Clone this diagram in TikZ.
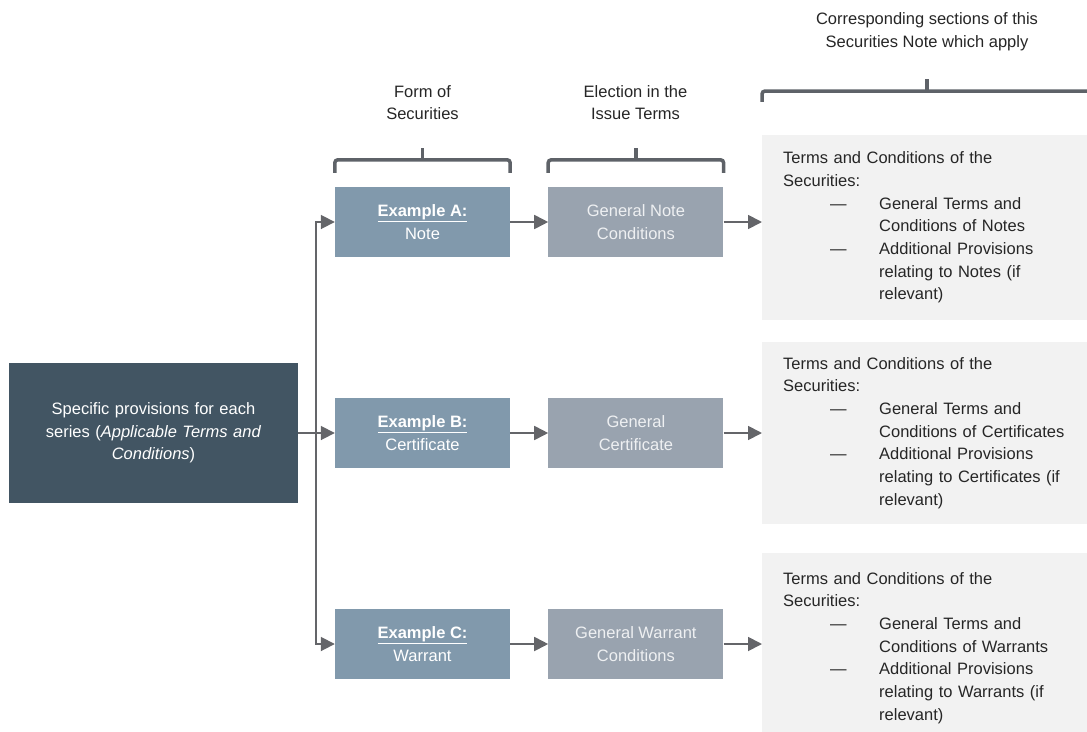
\documentclass[tikz,border=0pt]{standalone}
\usepackage{fontspec}
\setmainfont{Liberation Sans}
\usetikzlibrary{arrows.meta,positioning}

\definecolor{mainblue}{HTML}{425563}
\definecolor{formblue}{HTML}{8199AC}
\definecolor{electgrey}{HTML}{99A3AF}
\definecolor{electtext}{HTML}{EEF0F2}
\definecolor{panelgrey}{HTML}{F2F2F2}
\definecolor{linegrey}{HTML}{646569}
\definecolor{bracegrey}{HTML}{5E6268}
\definecolor{textgrey}{HTML}{262626}

\newcommand{\itemdash}{\hspace*{47pt}\makebox[49pt][l]{---}}
\newcommand{\itemgap}{\hspace*{96pt}}

\tikzset{
  mainbox/.style={fill=mainblue, text=white, minimum width=289pt, minimum height=140pt,
    text width=260pt, align=center, inner sep=0pt},
  formbox/.style={fill=formblue, text=white, minimum width=175pt, minimum height=70pt,
    align=center, inner sep=0pt},
  electbox/.style={fill=electgrey, text=electtext, minimum width=175pt, minimum height=70pt,
    align=center, inner sep=0pt},
  panel/.style={fill=panelgrey, text=textgrey, anchor=west, text width=300pt,
    inner xsep=21pt, inner ysep=0pt, align=left},
  head/.style={text=textgrey, align=center},
  arr/.style={draw=linegrey, line width=1.8pt, -{Triangle[length=14pt,width=14pt]}},
  bracket/.style={draw=bracegrey, line width=3.5pt, rounded corners=3pt}
}

\begin{document}
\begin{tikzpicture}[x=1pt, y=-1pt, font=\fontsize{16.5}{22.7}\selectfont]
    \clip (0,0) rectangle (1087,731);

    % Starting box
    \node[mainbox] (main) at (153.5,433) {Specific provisions for each\\
      series (\textit{Applicable Terms and}\\ \textit{Conditions})};

    % Form of Securities
    \node[formbox] (exA) at (422.5,222) {\underline{\textbf{Example A:}}\\Note};
    \node[formbox] (exB) at (422.5,433) {\underline{\textbf{Example B:}}\\Certificate};
    \node[formbox] (exC) at (422.5,644) {\underline{\textbf{Example C:}}\\Warrant};

    % Election in the Issue Terms
    \node[electbox, right=38pt of exA] (genA) {General Note\\Conditions};
    \node[electbox, right=38pt of exB] (genB) {General\\Certificate};
    \node[electbox, right=38pt of exC] (genC) {General Warrant\\Conditions};

    % Sections which apply
    \node[panel, minimum height=185pt] (panA) at (762,227.5) {%
      Terms and Conditions of the\\
      Securities:\\
      \itemdash General Terms and\\
      \itemgap Conditions of Notes\\
      \itemdash Additional Provisions\\
      \itemgap relating to Notes (if\\
      \itemgap relevant)};
    \node[panel, minimum height=182pt] (panB) at (762,433) {%
      Terms and Conditions of the\\
      Securities:\\
      \itemdash General Terms and\\
      \itemgap Conditions of Certificates\\
      \itemdash Additional Provisions\\
      \itemgap relating to Certificates (if\\
      \itemgap relevant)};
    \node[panel, minimum height=190pt] (panC) at (762,648) {%
      Terms and Conditions of the\\
      Securities:\\
      \itemdash General Terms and\\
      \itemgap Conditions of Warrants\\
      \itemdash Additional Provisions\\
      \itemgap relating to Warrants (if\\
      \itemgap relevant)};

    % Column headings
    \node[head] (formlbl) at (422.5,102.5) {Form of\\Securities};
    \node[head] (electlbl) at (635.5,102.5) {Election in the\\Issue Terms};
    \node[head] (sectlbl) at (927,32) {Corresponding sections of this\\Securities Note which apply};

    % Brackets
    \draw[bracket] ([yshift=14pt]exA.north west) |- ([yshift=27pt]exA.north)
        -| ([yshift=14pt]exA.north east);
    \draw[bracket] ([yshift=27pt]exA.north) -- ([yshift=39pt]exA.north);
    \draw[bracket] ([yshift=14pt]genA.north west) |- ([yshift=27pt]genA.north)
        -| ([yshift=14pt]genA.north east);
    \draw[bracket] ([yshift=27pt]genA.north) -- ([yshift=39pt]genA.north);
    \draw[bracket] ([yshift=33pt]panA.north west) |- (1100,91);
    \draw[bracket] (927,91) -- (927,79);

    % Connectors
    \coordinate (split) at (316,433);
    \draw[arr] (main) -- (exB);
    \draw[arr] (split) |- (exA);
    \draw[arr] (split) |- (exC);
    \draw[arr] (exA) -- (genA);
    \draw[arr] (exB) -- (genB);
    \draw[arr] (exC) -- (genC);
    \draw[arr] (genA.east) -- (genA.east -| panA.west);
    \draw[arr] (genB.east) -- (genB.east -| panB.west);
    \draw[arr] (genC.east) -- (genC.east -| panC.west);
\end{tikzpicture}
\end{document}
